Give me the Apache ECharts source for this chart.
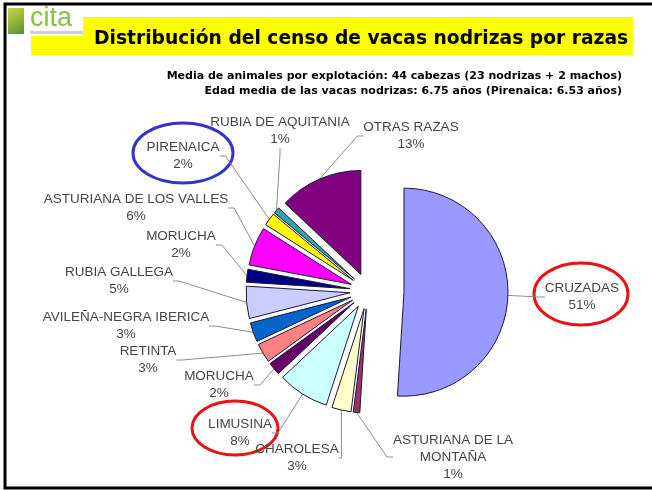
<!DOCTYPE html>
<html>
<head>
<meta charset="utf-8">
<script src="https://cdn.jsdelivr.net/npm/echarts@6/dist/echarts.min.js"></script>
<style>
  html, body { margin: 0; padding: 0; background: #fff; }
  #chart { width: 652px; height: 490px; }
</style>
</head>
<body>
<div id="chart"></div>
<script>
// razas, clockwise from 12 o'clock
const breeds = [
  'CRUZADAS', 'ASTURIANA DE LA\nMONTAÑA', 'CHAROLESA', 'LIMUSINA', 'MORUCHA',
  'RETINTA', 'AVILEÑA-NEGRA IBERICA', 'RUBIA GALLEGA', 'MORUCHA',
  'ASTURIANA DE LOS VALLES', 'PIRENAICA', 'RUBIA DE AQUITANIA', 'OTRAS RAZAS'
];
const shares = [51, 1, 3, 8, 2, 3, 3, 5, 2, 6, 2, 1, 13];

const sliceColors = [
  '#9999ff', '#993366', '#ffffcc', '#ccffff', '#660066', '#ff8080', '#0066cc',
  '#ccccff', '#000080', '#ff00ff', '#ffff00', '#33a3a3', '#800080'
];
// label centres (px)
const labelSpots = [
  [582, 297], [453, 457], [297, 458], [240, 433], [219, 385], [148, 360], [126, 326],
  [119, 281], [181, 245], [136, 208], [183, 156], [280, 131], [411, 136]
];

const CENTER = [368, 291];
const R = 104;

const chart = echarts.init(document.getElementById('chart'));

// exploded slices, no labels
function sliceSeries(isShown, offset) {
  return {
    type: 'pie',
    center: CENTER,
    radius: R,
    startAngle: 90,
    selectedMode: 'multiple',
    selectedOffset: offset,
    animation: false,
    silent: true,
    emphasis: { disabled: true },
    label: { show: false },
    labelLine: { show: false },
    data: breeds.map((b, i) => ({
      name: b,
      value: shares[i],
      selected: true,
      itemStyle: isShown(i)
        ? { color: sliceColors[i], borderColor: '#1a1a3a', borderWidth: 1 }
        : { color: 'rgba(0,0,0,0)', borderWidth: 0 }
    }))
  };
}

// invisible ring as big as the exploded slices, carrying labels + leader lines
function labelSeries(isShown, offset) {
  return {
    type: 'pie',
    center: CENTER,
    radius: R + offset,
    startAngle: 90,
    avoidLabelOverlap: false,
    animation: false,
    silent: true,
    emphasis: { disabled: true },
    itemStyle: { color: 'rgba(0,0,0,0)', borderWidth: 0 },
    label: {
      position: 'outside',
      color: '#454545',
      fontFamily: 'Liberation Sans',
      fontSize: 13.5,
      lineHeight: 17,
      formatter: p => p.name + '\n' + p.value + '%'
    },
    labelLine: { length: 6, length2: 6, lineStyle: { color: '#8c8c8c', width: 1 } },
    labelLayout: p => ({
      x: labelSpots[p.dataIndex][0],
      y: labelSpots[p.dataIndex][1],
      align: 'center',
      verticalAlign: 'middle'
    }),
    data: breeds.map((b, i) => ({
      name: b,
      value: shares[i],
      label: { show: isShown(i) },
      labelLine: { show: isShown(i) }
    }))
  };
}

const isCruzadas = i => i === 0;
const isOther = i => i !== 0;

chart.setOption({
  backgroundColor: '#fff',
  animation: false,
  title: [
    {
      text: 'Distribución del censo de vacas nodrizas por razas',
      left: 89, top: 25,
      textStyle: { fontFamily: 'DejaVu Sans', fontWeight: 'bold', fontSize: 18.7, color: '#000' }
    },
    {
      text: 'Media de animales por explotación: 44 cabezas (23 nodrizas + 2 machos)',
      right: 25, top: 66,
      textStyle: { fontFamily: 'DejaVu Sans', fontWeight: 'bold', fontSize: 11, color: '#000' }
    },
    {
      text: 'Edad media de las vacas nodrizas: 6.75 años (Pirenaica: 6.53 años)',
      right: 25, top: 81,
      textStyle: { fontFamily: 'DejaVu Sans', fontWeight: 'bold', fontSize: 11, color: '#000' }
    }
  ],
  graphic: [
    { type: 'rect', shape: { x: 5, y: 4, width: 660, height: 484 }, style: { fill: 'none', stroke: '#000', lineWidth: 3 } },
    { type: 'rect', shape: { x: 31, y: 17, width: 602, height: 38 }, style: { fill: '#ffff00' } },
    { type: 'rect', shape: { x: 7, y: 7, width: 76, height: 29 }, style: { fill: '#fff' } },
    {
      type: 'rect', shape: { x: 8, y: 8, width: 16, height: 26 },
      style: {
        fill: new echarts.graphic.LinearGradient(0, 0, 1, 1, [
          { offset: 0, color: '#c5d84a' }, { offset: 1, color: '#5f8f2a' }
        ])
      }
    },
    { type: 'text', x: 30, y: 5, style: { text: 'cita', fill: '#8cbf3f', font: '27px "Liberation Sans"' } },
    { type: 'rect', shape: { x: 30, y: 31, width: 53, height: 3 }, style: { fill: '#d0d0d0' } },
    { type: 'ellipse', shape: { cx: 183, cy: 153, rx: 50, ry: 30 }, style: { fill: 'none', stroke: '#3333cc', lineWidth: 3 } },
    { type: 'ellipse', shape: { cx: 235, cy: 428, rx: 43, ry: 27 }, style: { fill: 'none', stroke: '#ee1111', lineWidth: 3 } },
    { type: 'ellipse', shape: { cx: 581, cy: 294, rx: 47, ry: 31 }, style: { fill: 'none', stroke: '#ee1111', lineWidth: 3 } }
  ],
  series: [
    sliceSeries(isCruzadas, 36),
    sliceSeries(isOther, 18),
    labelSeries(isCruzadas, 36),
    labelSeries(isOther, 18)
  ]
});
</script>
</body>
</html>
